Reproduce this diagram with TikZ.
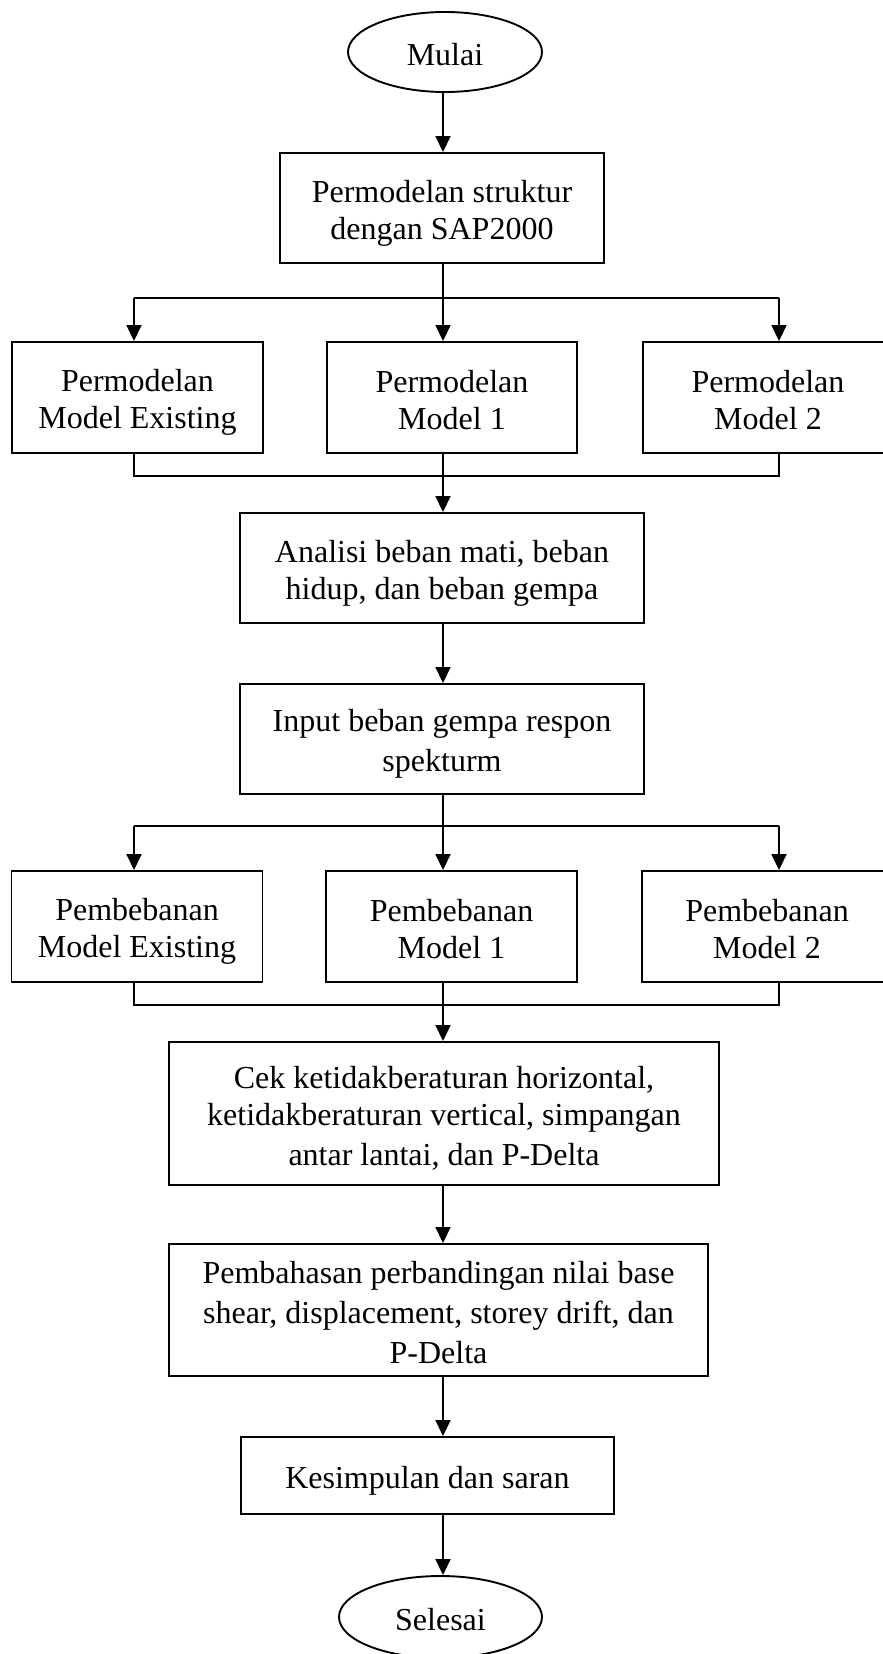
\documentclass[tikz,border=0pt]{standalone}
\usepackage{fontspec}
\setmainfont{Liberation Serif}
\usetikzlibrary{shapes.geometric,arrows.meta}
\newcommand{\lnst}{\rule[-5pt]{0pt}{37pt}}
\tikzset{
  proc/.style={draw=black, line width=1.9pt, rectangle, inner sep=0pt, align=center,
    font=\fontsize{32}{37}\selectfont, fill=white},
  term/.style={draw=black, line width=1.9pt, ellipse, inner sep=0pt, align=center,
    font=\fontsize{32}{37}\selectfont},
  conn/.style={draw=black, line width=1.7pt},
  arr/.style={conn, -{Triangle[length=16pt,width=15pt]}},
}
\begin{document}
\begin{tikzpicture}[x=1pt,y=-1pt]
\useasboundingbox (0,0) rectangle (883,1654);
\fill[white] (0,0) rectangle (883,1654);

\node[term, minimum width=194pt, minimum height=80pt] (mulai) at (445,52) {\lnst Mulai};
\node[proc, minimum width=324pt, minimum height=110pt] (box1) at (442,208) {\lnst Permodelan struktur\\\lnst dengan SAP2000};

\node[proc, minimum width=251pt, minimum height=111pt] (pa) at (137.5,397.5) {\lnst Permodelan\\\lnst Model Existing};
\node[proc, minimum width=250pt, minimum height=111pt] (pb) at (452,397.5) {\lnst Permodelan\\\lnst Model 1};
\node[proc, minimum width=250pt, minimum height=111pt] (pc) at (768,397.5) {\lnst Permodelan\\\lnst Model 2};

\node[proc, minimum width=404pt, minimum height=110pt] (analisi) at (442,568) {\lnst Analisi beban mati, beban\\\lnst hidup, dan beban gempa};
\node[proc, minimum width=404pt, minimum height=110pt] (input) at (442,739) {\lnst Input beban gempa respon\\\lnst spekturm};

\node[proc, minimum width=251pt, minimum height=111pt] (ba) at (137,926.5) {\lnst Pembebanan\\\lnst Model Existing};
\node[proc, minimum width=251pt, minimum height=111pt] (bb) at (451.5,926.5) {\lnst Pembebanan\\\lnst Model 1};
\node[proc, minimum width=250pt, minimum height=111pt] (bc) at (767,926.5) {\lnst Pembebanan\\\lnst Model 2};

\node[proc, minimum width=550pt, minimum height=143pt] (cek) at (444,1113.5) {\lnst Cek ketidakberaturan horizontal,\\\lnst ketidakberaturan vertical, simpangan\\\lnst antar lantai, dan P-Delta};
\node[proc, minimum width=539pt, minimum height=132pt] (bahas) at (438.5,1310) {\lnst Pembahasan perbandingan nilai base\\\lnst shear, displacement, storey drift, dan\\\lnst P-Delta};
\node[proc, minimum width=373pt, minimum height=77pt] (kes) at (427.5,1475.5) {\lnst Kesimpulan dan saran};
\node[term, minimum width=203pt, minimum height=82pt] (selesai) at (440.5,1617) {\lnst Selesai};

\coordinate (cx) at (443,0);
\coordinate (lx) at (134,0);
\coordinate (rx) at (779,0);
\coordinate (s1) at (443,298);
\coordinate (m1) at (443,476);
\coordinate (s2) at (443,826);
\coordinate (m2) at (443,1005);

\draw[arr] (mulai.south -| cx) -- (box1.north -| cx);
\draw[conn] (box1.south -| cx) -- (s1);
\draw[conn] (s1 -| lx) -- (s1 -| rx);
\draw[arr] (s1 -| lx) -- (pa.north -| lx);
\draw[arr] (s1) -- (pb.north -| cx);
\draw[arr] (s1 -| rx) -- (pc.north -| rx);
\draw[conn] (pa.south -| lx) -- (m1 -| lx) -- (m1 -| rx) -- (pc.south -| rx);
\draw[conn] (pb.south -| cx) -- (m1);
\draw[arr] (m1) -- (analisi.north -| cx);
\draw[arr] (analisi.south -| cx) -- (input.north -| cx);

\draw[conn] (input.south -| cx) -- (s2);
\draw[conn] (s2 -| lx) -- (s2 -| rx);
\draw[arr] (s2 -| lx) -- (ba.north -| lx);
\draw[arr] (s2) -- (bb.north -| cx);
\draw[arr] (s2 -| rx) -- (bc.north -| rx);
\draw[conn] (ba.south -| lx) -- (m2 -| lx) -- (m2 -| rx) -- (bc.south -| rx);
\draw[conn] (bb.south -| cx) -- (m2);
\draw[arr] (m2) -- (cek.north -| cx);
\draw[arr] (cek.south -| cx) -- (bahas.north -| cx);
\draw[arr] (bahas.south -| cx) -- (kes.north -| cx);
\draw[arr] (kes.south -| cx) -- (selesai.north -| cx);
\end{tikzpicture}
\end{document}
